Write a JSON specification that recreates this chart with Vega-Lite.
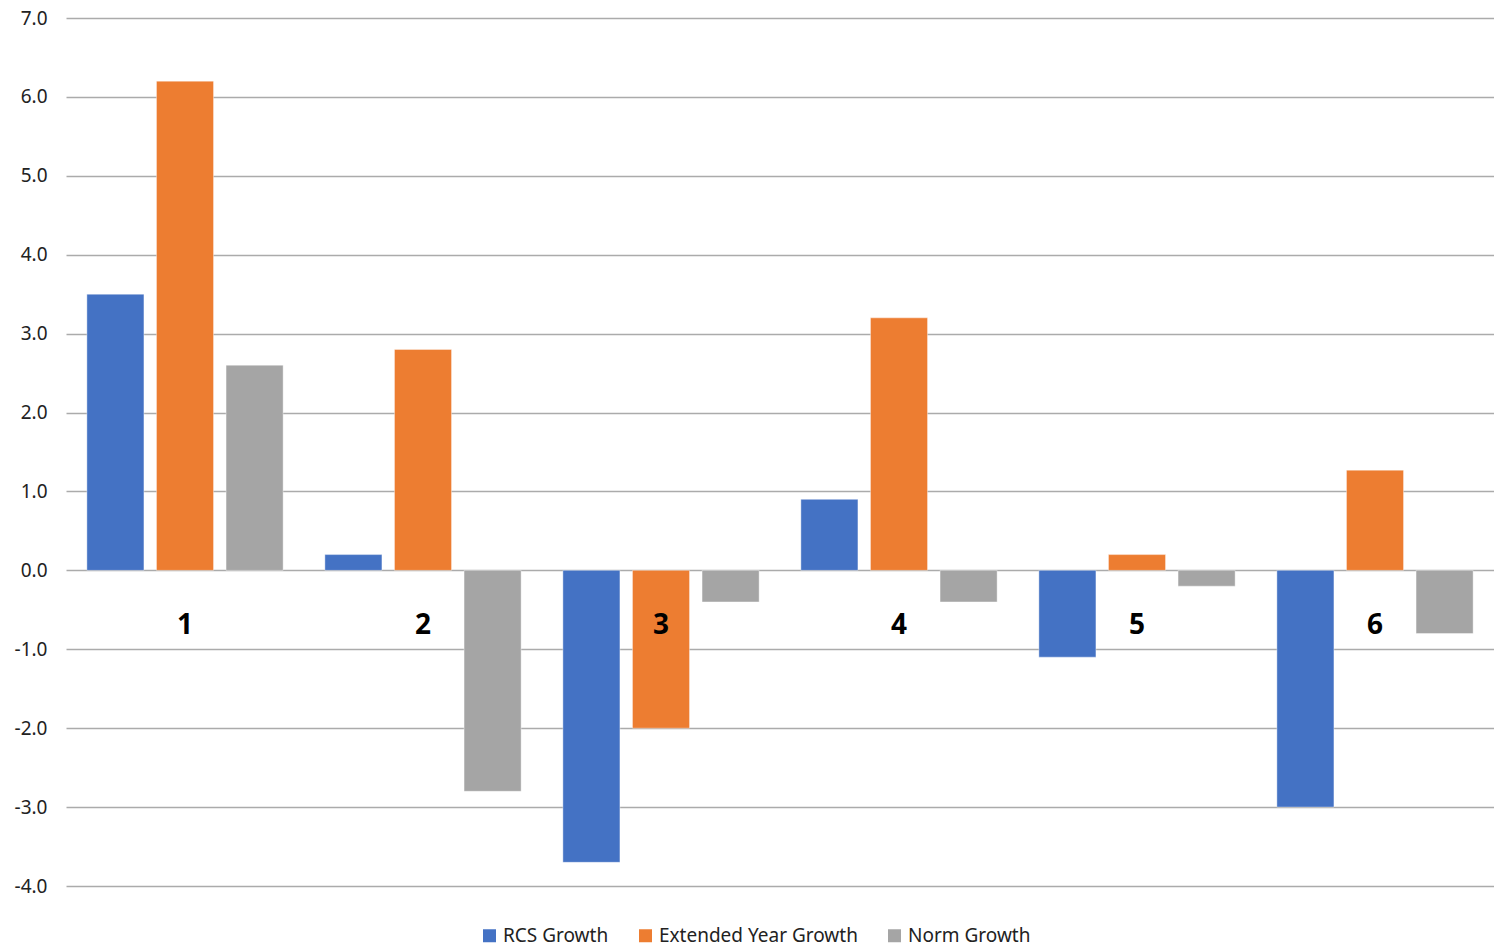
{
  "$schema": "https://vega.github.io/schema/vega-lite/v6.json",
  "width": 1428,
  "height": 868,
  "autosize": {"type": "none"},
  "padding": {"left": 66, "top": 18, "right": 0, "bottom": 63},
  "background": "white",
  "config": {
    "view": {"stroke": null},
    "font": "Noto Sans"
  },
  "data": {
    "values": [
      {"cat": "1", "series": "RCS Growth", "value": 3.5},
      {"cat": "1", "series": "Extended Year Growth", "value": 6.2},
      {"cat": "1", "series": "Norm Growth", "value": 2.6},
      {"cat": "2", "series": "RCS Growth", "value": 0.2},
      {"cat": "2", "series": "Extended Year Growth", "value": 2.8},
      {"cat": "2", "series": "Norm Growth", "value": -2.8},
      {"cat": "3", "series": "RCS Growth", "value": -3.7},
      {"cat": "3", "series": "Extended Year Growth", "value": -2.0},
      {"cat": "3", "series": "Norm Growth", "value": -0.4},
      {"cat": "4", "series": "RCS Growth", "value": 0.9},
      {"cat": "4", "series": "Extended Year Growth", "value": 3.2},
      {"cat": "4", "series": "Norm Growth", "value": -0.4},
      {"cat": "5", "series": "RCS Growth", "value": -1.1},
      {"cat": "5", "series": "Extended Year Growth", "value": 0.2},
      {"cat": "5", "series": "Norm Growth", "value": -0.2},
      {"cat": "6", "series": "RCS Growth", "value": -3.0},
      {"cat": "6", "series": "Extended Year Growth", "value": 1.27},
      {"cat": "6", "series": "Norm Growth", "value": -0.8}
    ]
  },
  "mark": {"type": "bar", "stroke": "white", "strokeOpacity": 0.4, "strokeWidth": 1},
  "encoding": {
    "x": {
      "field": "cat",
      "type": "nominal",
      "scale": {"paddingInner": 0, "paddingOuter": 0},
      "axis": {
        "title": null,
        "labelAngle": 0,
        "domain": false,
        "ticks": false,
        "zindex": 2,
        "offset": -316,
        "labelPadding": 41,
        "labelFontSize": 28,
        "labelFontWeight": "bold",
        "labelColor": "#000000",
        "labelFont": "Noto Sans"
      }
    },
    "xOffset": {
      "field": "series",
      "type": "nominal",
      "sort": ["RCS Growth", "Extended Year Growth", "Norm Growth"],
      "scale": {"paddingInner": 0.18, "paddingOuter": 0.3}
    },
    "y": {
      "field": "value",
      "type": "quantitative",
      "scale": {"domain": [-4, 7], "nice": false},
      "axis": {
        "title": null,
        "values": [-4, -3, -2, -1, 0, 1, 2, 3, 4, 5, 6, 7],
        "format": ".1f",
        "labelExpr": "replace(datum.label, '\u2212', '-')",
        "domain": false,
        "ticks": false,
        "labelPadding": 19,
        "labelFontSize": 19,
        "labelColor": "#222222",
        "gridColor": "#ababab",
        "gridWidth": 1.5
      }
    },
    "color": {
      "field": "series",
      "type": "nominal",
      "sort": ["RCS Growth", "Extended Year Growth", "Norm Growth"],
      "scale": {
        "domain": ["RCS Growth", "Extended Year Growth", "Norm Growth"],
        "range": ["#4472C4", "#ED7D31", "#A5A5A5"]
      },
      "legend": {
        "title": null,
        "orient": "none",
        "direction": "horizontal",
        "legendX": 414,
        "legendY": 908,
        "symbolType": "square",
        "symbolSize": 169,
        "symbolStrokeWidth": 0,
        "labelFontSize": 19,
        "labelLimit": 0,
        "labelColor": "#222222",
        "labelOffset": 4,
        "columnPadding": 27
      }
    }
  }
}
